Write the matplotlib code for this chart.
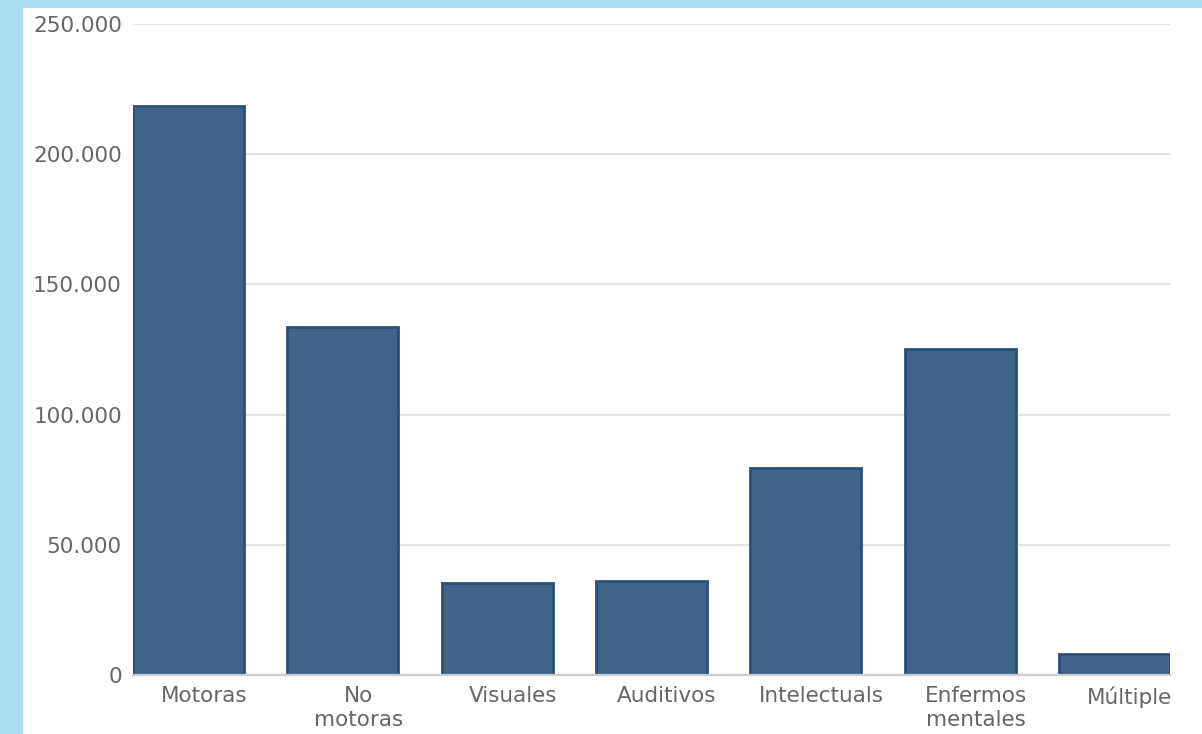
import matplotlib.pyplot as plt
from matplotlib.patches import Rectangle
from matplotlib.ticker import FuncFormatter

# Datos
categorias = ['Motoras', 'No\nmotoras', 'Visuales', 'Auditivos',
              'Intelectuals', 'Enfermos\nmentales', 'Múltiple']
valores = [218500, 133700, 35300, 36100, 79500, 125200, 8100]
y_ticks = [0, 50000, 100000, 150000, 200000, 250000]

BAR_FILL = '#416289'
BAR_EDGE = '#2c4f7a'
BG_BLUE = '#a9def3'
TEXT_GRAY = '#666666'


def miles(v, _pos):
    return f'{int(v):,}'.replace(',', '.')


fig = plt.figure(figsize=(12.02, 7.34), dpi=100)
fig.patch.set_facecolor(BG_BLUE)
# panel blanco
fig.patches.append(Rectangle((23 / 1202, 0), 1 - 23 / 1202, 1 - 8 / 734,
                             transform=fig.transFigure, facecolor='white',
                             edgecolor='none', zorder=-5))

ax = fig.add_axes([133 / 1202, 59 / 734, (1170 - 133) / 1202, (675 - 24) / 734])
ax.set_facecolor('none')

x = list(range(len(categorias)))
ax.bar(x, valores, width=0.72, color=BAR_FILL, edgecolor=BAR_EDGE,
       linewidth=2, zorder=3)

ax.set_xlim(-0.36, len(categorias) - 1 + 0.36)
ax.set_ylim(0, 250000)
ax.set_yticks(y_ticks)
ax.yaxis.set_major_formatter(FuncFormatter(miles))
ax.grid(axis='y', color='#e3e3e3', linewidth=1.6, zorder=0)

# las etiquetas del original quedan algo a la derecha del centro de la barra
ax.set_xticks([i + 0.1 for i in x])
ax.set_xticklabels(categorias, linespacing=1.25)

ax.tick_params(axis='both', length=0, labelsize=15.5, labelcolor=TEXT_GRAY)
ax.tick_params(axis='y', pad=8)
ax.tick_params(axis='x', pad=8)

for side in ['top', 'right', 'left']:
    ax.spines[side].set_visible(False)
ax.spines['bottom'].set_color('#cccccc')
ax.spines['bottom'].set_linewidth(1.6)
ax.spines['bottom'].set_zorder(4)

fig.savefig('out.png', dpi=100, facecolor=fig.get_facecolor())
